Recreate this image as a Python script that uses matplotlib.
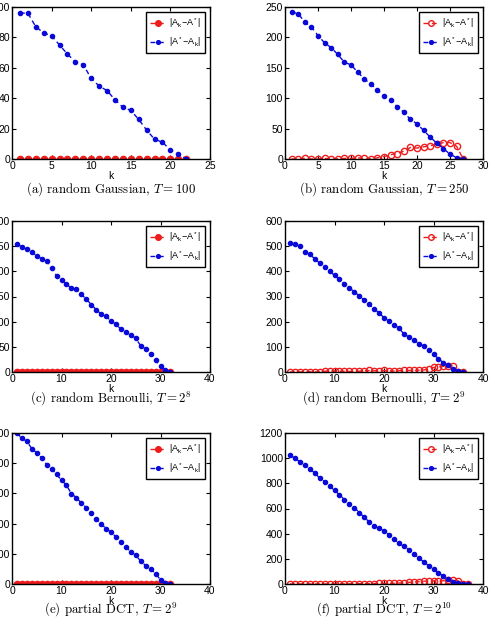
import matplotlib
matplotlib.use("Agg")
import matplotlib.pyplot as plt
import numpy as np

plt.rcParams['font.family'] = ['Liberation Sans', 'DejaVu Sans']
plt.rcParams['mathtext.fontset'] = 'custom'
plt.rcParams['mathtext.rm'] = 'Liberation Sans'
plt.rcParams['mathtext.it'] = 'Liberation Sans:italic'
plt.rcParams['mathtext.bf'] = 'Liberation Sans:bold'
plt.rcParams['axes.unicode_minus'] = False

# ---------------- data ----------------
k_a = list(range(1, 23))
blue_a = [96, 96, 87, 83, 81, 75, 69, 64, 62, 53, 48, 45, 39, 34, 32, 26, 19, 13, 11, 6, 3, 0]
red_a = [0] * 22

k_b = list(range(1, 28))
blue_b = [242, 239, 225, 217, 203, 191, 183, 172, 159, 155, 143, 132, 123, 114, 103, 97,
          86, 77, 65, 58, 47, 36, 26, 17, 8, 2, 0]
red_b = [0, 0, 1, 0, 0, 1, 0, 0, 1, 1, 2, 1, 0, 2, 4, 7, 9, 13, 19, 18, 20, 22, 24, 27, 27, 21, 0]

k_c = list(range(1, 33))
blue_c = [255, 248, 244, 238, 231, 225, 220, 207, 191, 183, 174, 167, 165, 154, 145, 134,
          124, 115, 111, 101, 95, 85, 79, 74, 67, 52, 46, 36, 23, 11, 3, 0]
red_c = [0] * 32

k_d = list(range(1, 37))
blue_d = [512, 510, 499, 477, 468, 450, 433, 417, 401, 384, 368, 351, 335, 318, 303, 285,
          269, 252, 234, 216, 203, 188, 174, 152, 139, 128, 113, 103, 86, 70, 53, 37, 26, 13, 3, 0]
red_d = [0, 0, 0, 0, 1, 0, 1, 3, 5, 4, 3, 3, 2, 2, 3, 5, 6, 5, 5, 6, 5, 4, 5, 6, 6, 6, 7, 8,
         12, 18, 20, 23, 24, 25, 0, 0]

k_e = list(range(1, 33))
blue_e = [500, 482, 473, 448, 434, 418, 395, 382, 363, 344, 327, 299, 286, 268, 253, 234,
          216, 200, 183, 172, 156, 140, 122, 107, 95, 76, 61, 50, 34, 14, 3, 0]
red_e = [0] * 32

k_f = list(range(1, 38))
blue_f = [1022, 1001, 970, 948, 917, 882, 842, 813, 776, 744, 710, 670, 638, 607, 567, 532,
          493, 464, 445, 421, 392, 358, 326, 299, 273, 241, 209, 175, 146, 119, 90, 61, 42,
          16, 8, 0, 0]
red_f = [0, 0, 0, 0, 0, 0, 0, 0, 0, 0, 0, 1, 1, 2, 2, 2, 3, 3, 4, 5, 5, 6, 8, 10, 13, 16,
         19, 22, 24, 25, 25, 26, 28, 30, 24, 0, 0]

captions = [r"(a) random Gaussian, $T = 100$", r"(b) random Gaussian, $T = 250$",
            r"(c) random Bernoulli, $T = 2^8$", r"(d) random Bernoulli, $T = 2^9$",
            r"(e) partial DCT, $T = 2^9$", r"(f) partial DCT, $T = 2^{10}$"]
xlims = [25, 30, 40, 40, 40, 40]
xsteps = [5, 5, 10, 10, 10, 10]
ylims = [100, 250, 300, 600, 500, 1200]
ysteps = [20, 50, 50, 100, 100, 200]
label_red = r"$|\mathrm{A}_\mathrm{k}\!-\!\mathrm{A}^*|$"
label_blue = r"$|\mathrm{A}^*\!-\!\mathrm{A}_\mathrm{k}|$"

panels = [(k_a, red_a, blue_a), (k_b, red_b, blue_b), (k_c, red_c, blue_c),
          (k_d, red_d, blue_d), (k_e, red_e, blue_e), (k_f, red_f, blue_f)]

W, H = 495, 628
fig = plt.figure(figsize=(W / 100, H / 100), dpi=100)

lefts = [12, 285]
tops = [7, 221, 433]
bottoms = [159, 372, 584]
cap_y = [189, 399, 610]
aw = 198

RED = '#ee1c1c'
BLUE = '#0a0ad8'

for i, (k, r, b) in enumerate(panels):
    row, col = divmod(i, 2)
    x0 = lefts[col]
    ax = fig.add_axes([x0 / W, 1 - bottoms[row] / H, aw / W, (bottoms[row] - tops[row]) / H])
    hollow = (col == 1)
    ax.plot(k, r, linestyle=(0, (3.5, 2.5)), color=RED, lw=1.0, marker='o', ms=4.5,
            mfc='none' if hollow else RED, mec=RED, mew=1.0, label=label_red)
    ax.plot(k, b, linestyle=(0, (3.5, 2.5)), color=BLUE, lw=1.0, marker='o', ms=3.0,
            mfc=BLUE, mec=BLUE, label=label_blue)
    ax.set_xlim(0, xlims[i])
    ax.set_ylim(0, ylims[i])
    ax.set_xticks(np.arange(0, xlims[i] + 1, xsteps[i]))
    ax.set_yticks(np.arange(0, ylims[i] + 1, ysteps[i]))
    ax.tick_params(direction='in', length=3, width=0.8, labelsize=7.5, pad=1.5,
                   top=True, right=True)
    for s in ax.spines.values():
        s.set_linewidth(1.0)
    ax.set_xlabel('k', fontsize=7.5, labelpad=0)
    leg = ax.legend(loc='upper right', fontsize=6.5, frameon=True, fancybox=False,
                    framealpha=1, edgecolor='black', handlelength=1.8, handletextpad=0.3,
                    borderpad=0.45, labelspacing=0.6, borderaxespad=0.55, markerscale=0.9)
    leg.get_frame().set_linewidth(1.0)
    cx = (x0 + aw / 2) / W
    fig.text(cx, 1 - cap_y[row] / H, captions[i], ha='center', va='center',
             fontsize=9.3, family=['cmr10', 'DejaVu Serif'], math_fontfamily='cm')

fig.savefig('out.png', dpi=100)
